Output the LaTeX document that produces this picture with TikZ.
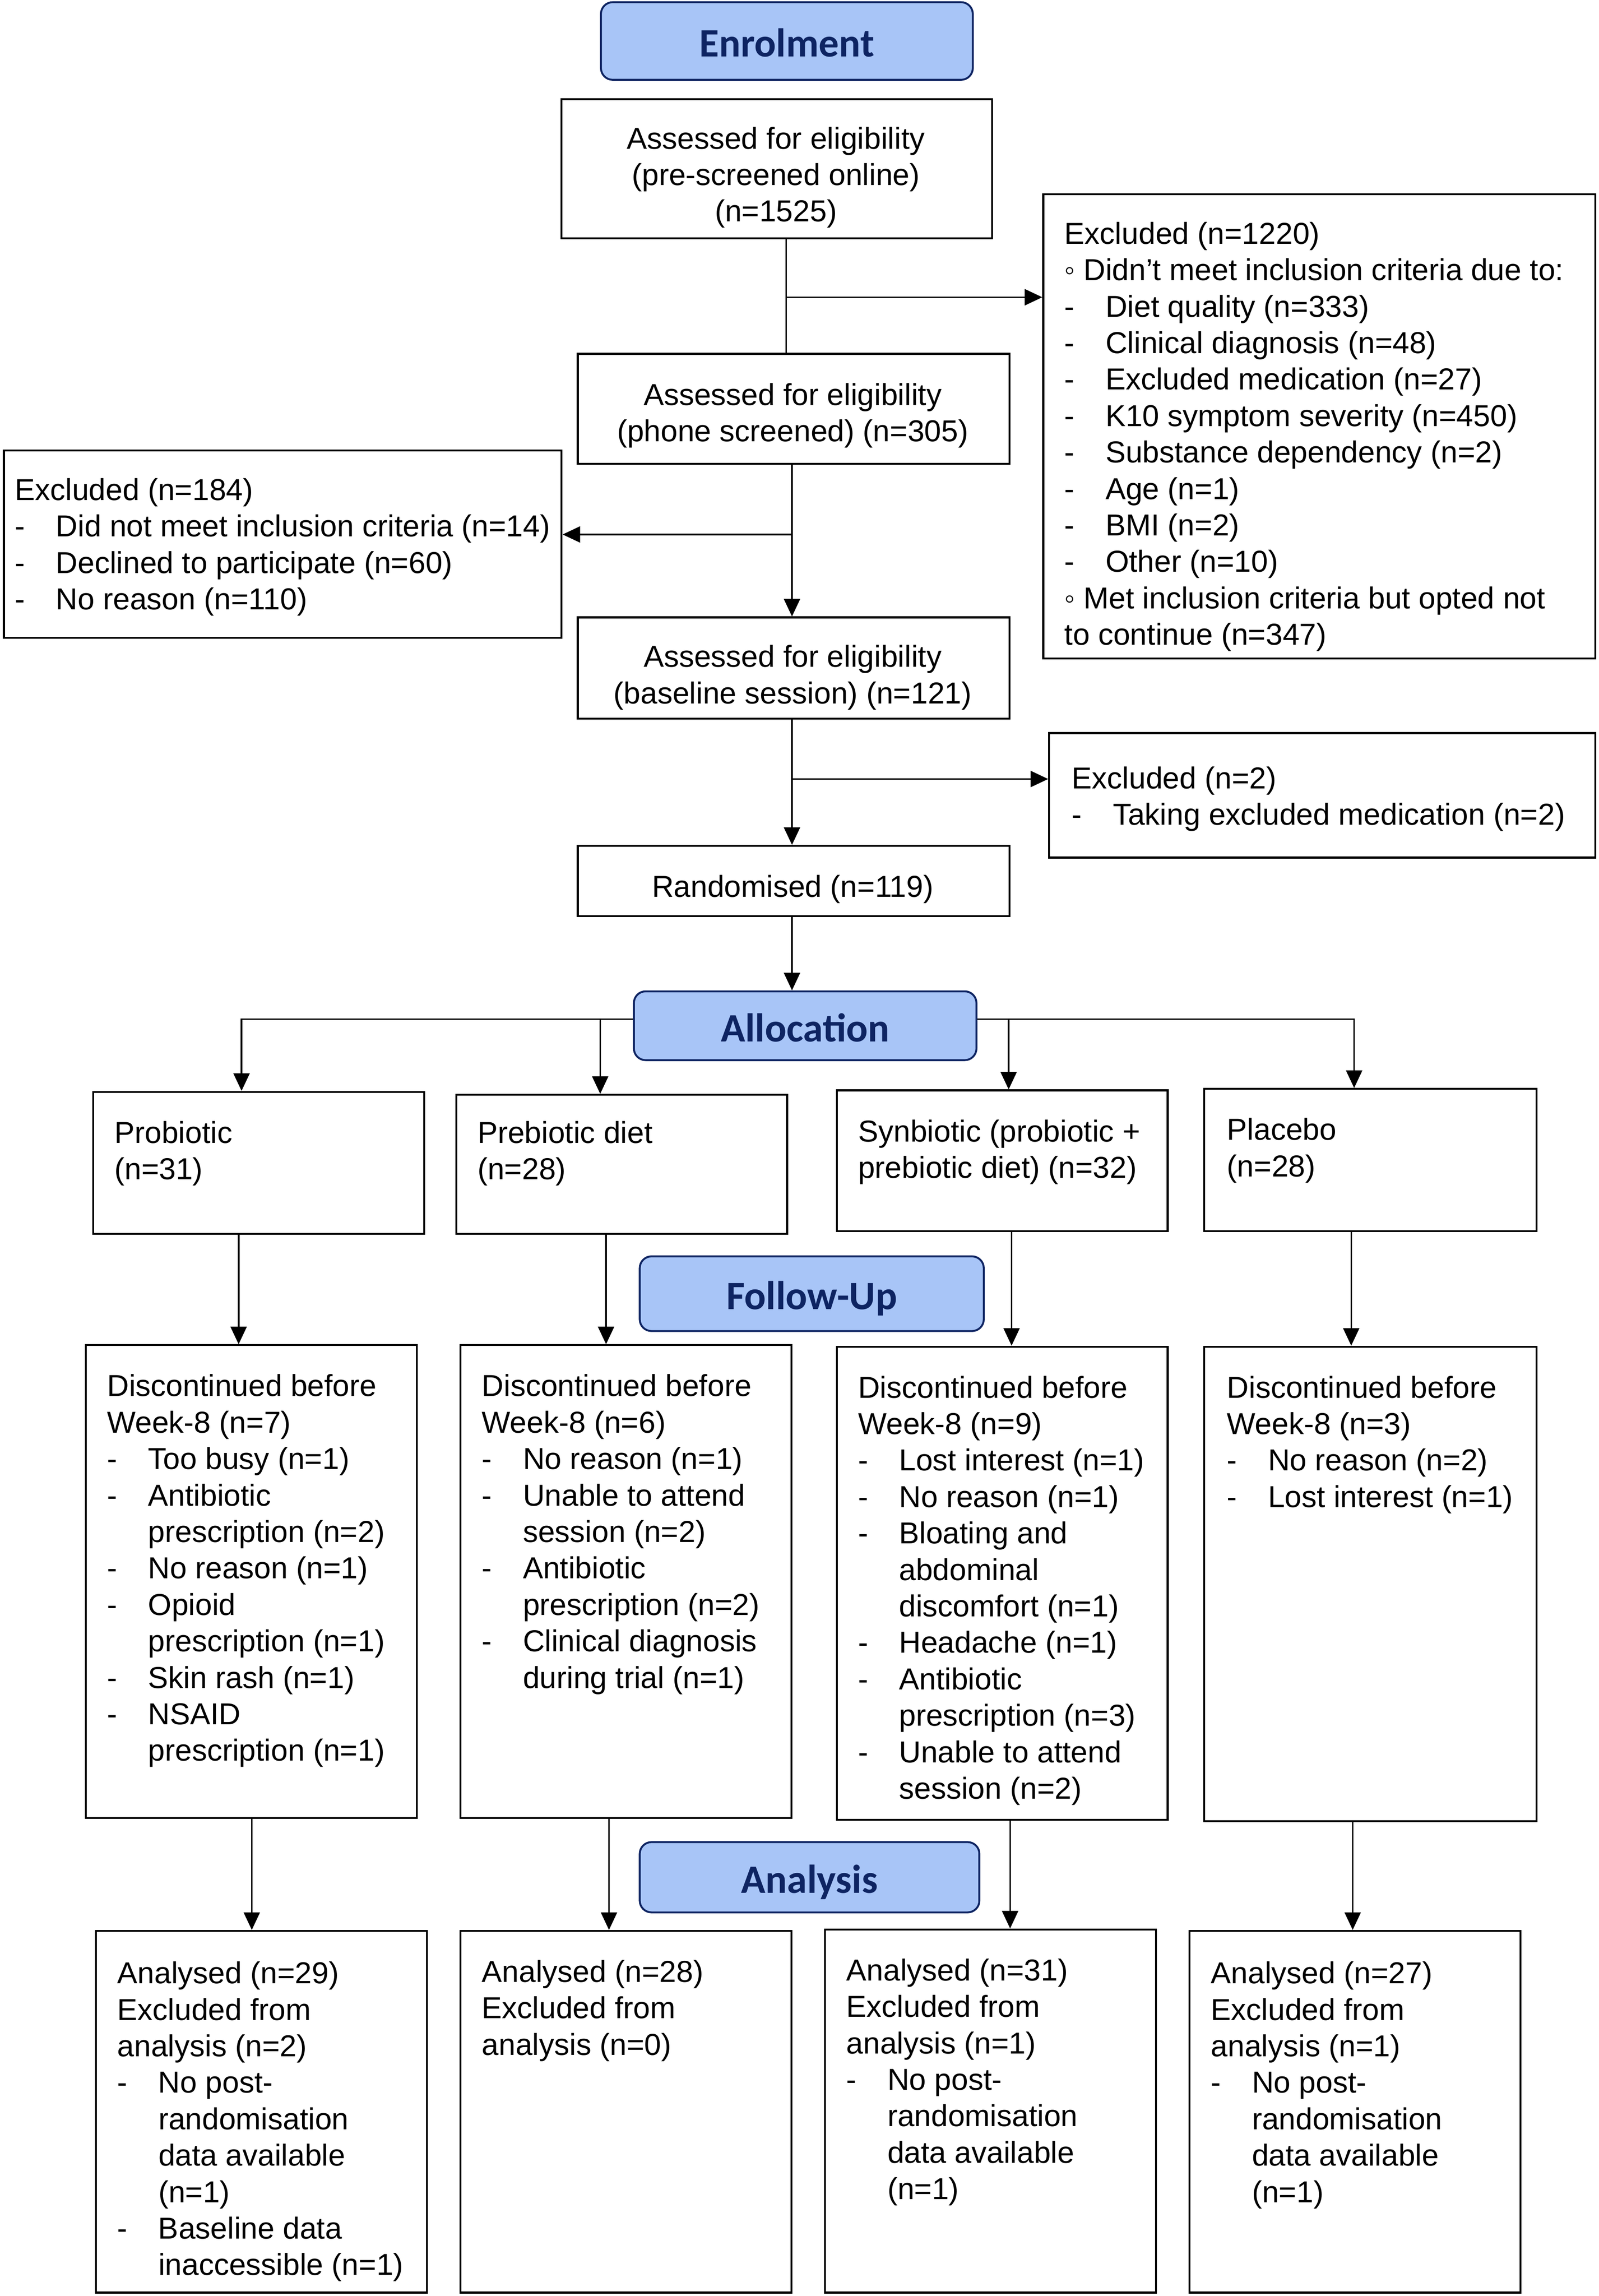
\documentclass[tikz,border=0pt]{standalone}
\usepackage{fontspec}
\setmainfont{Liberation Sans}
\newfontfamily\hdrfont{Carlito}
\usetikzlibrary{arrows.meta}
\definecolor{hdrfill}{RGB}{168,197,247}
\definecolor{navy}{RGB}{14,36,98}
\newcommand\itm{\makebox[28pt][l]{-}}
\newcommand\ind{\hspace*{28pt}}
\begin{document}
\begin{tikzpicture}[x=1pt,y=-1pt,
  box/.style={draw, line width=1.3pt, inner sep=0pt, anchor=north west},
  hdr/.style={draw=navy, fill=hdrfill, line width=1.3pt, rounded corners=8pt, inner sep=0pt, text=navy,
    font=\hdrfont\bfseries\fontsize{27.5pt}{30pt}\selectfont, text height=21.5pt, text depth=0pt},
  txt/.style={inner sep=0pt, anchor=north west, align=left, font=\fontsize{20.7pt}{24.9pt}\selectfont},
  ctxt/.style={inner sep=0pt, anchor=north, align=center, font=\fontsize{20.7pt}{24.9pt}\selectfont},
  arr/.style={line width=1.1pt, -{Triangle[length=12pt,width=11pt]}},
  ln/.style={line width=1.1pt}]
\useasboundingbox (0,0) rectangle (1092,1568);

% headers
\node[hdr, minimum width=254pt, minimum height=53pt] (enr) at (537.5,28) {Enrolment};
\node[hdr, minimum width=234pt, minimum height=47pt] (alloc) at (550,700.5) {Allocation};
\node[hdr, minimum width=235pt, minimum height=51pt] (fu) at (554.5,883.5) {Follow-Up};
\node[hdr, minimum width=232pt, minimum height=48pt] (an) at (553,1282) {Analysis};

% enrolment boxes
\node[box, minimum width=294pt, minimum height=95pt] (a1) at (383,67) {};
\node[ctxt] (a1t) at (530,84) {\strut Assessed for eligibility\\(pre-screened online)\\(n=1525)};
\node[box, minimum width=377pt, minimum height=317pt] (ex1) at (712,132) {};
\node[txt] (ex1t) at (727,149) {\strut Excluded (n=1220)\\
◦ Didn’t meet inclusion criteria due to:\\
\itm Diet quality (n=333)\\
\itm Clinical diagnosis (n=48)\\
\itm Excluded medication (n=27)\\
\itm K10 symptom severity (n=450)\\
\itm Substance dependency (n=2)\\
\itm Age (n=1)\\
\itm BMI (n=2)\\
\itm Other (n=10)\\
◦ Met inclusion criteria but opted not\\
to continue (n=347)};
\node[box, minimum width=295pt, minimum height=75pt] (a2) at (394,241) {};
\node[ctxt] (a2t) at (541.5,259) {\strut Assessed for eligibility\\(phone screened) (n=305)};
\node[box, minimum width=381pt, minimum height=128pt] (ex2) at (2,307) {};
\node[txt] (ex2t) at (10,324) {\strut Excluded (n=184)\\
\itm Did not meet inclusion criteria (n=14)\\
\itm Declined to participate (n=60)\\
\itm No reason (n=110)};
\node[box, minimum width=295pt, minimum height=69pt] (a3) at (394,421) {};
\node[ctxt] (a3t) at (541.5,438) {\strut Assessed for eligibility\\(baseline session) (n=121)};
\node[box, minimum width=373pt, minimum height=85pt] (ex3) at (716,500) {};
\node[txt] (ex3t) at (732,521) {\strut Excluded (n=2)\\
\itm Taking excluded medication (n=2)};
\node[box, minimum width=295pt, minimum height=48pt] (rand) at (394,577) {};
\node[ctxt] (randt) at (541.5,595) {\strut Randomised (n=119)};

% groups
\node[box, minimum width=226pt, minimum height=97pt] (g1) at (63,745) {};
\node[txt] (g1t) at (78,763) {\strut Probiotic\\(n=31)};
\node[box, minimum width=226pt, minimum height=95pt] (g2) at (311,747) {};
\node[txt] (g2t) at (326,763) {\strut Prebiotic diet\\(n=28)};
\node[box, minimum width=226pt, minimum height=96pt] (g3) at (571,744) {};
\node[txt] (g3t) at (586,762) {\strut Synbiotic (probiotic +\\prebiotic diet) (n=32)};
\node[box, minimum width=227pt, minimum height=97pt] (g4) at (822,743) {};
\node[txt] (g4t) at (838,761) {\strut Placebo\\(n=28)};

% follow-up
\node[box, minimum width=226pt, minimum height=323pt] (d1) at (58,918) {};
\node[txt] (d1t) at (73,936) {\strut Discontinued before\\Week-8 (n=7)\\
\itm Too busy (n=1)\\
\itm Antibiotic\\
\ind prescription (n=2)\\
\itm No reason (n=1)\\
\itm Opioid\\
\ind prescription (n=1)\\
\itm Skin rash (n=1)\\
\itm NSAID\\
\ind prescription (n=1)};
\node[box, minimum width=226pt, minimum height=323pt] (d2) at (314,918) {};
\node[txt] (d2t) at (329,936) {\strut Discontinued before\\Week-8 (n=6)\\
\itm No reason (n=1)\\
\itm Unable to attend\\
\ind session (n=2)\\
\itm Antibiotic\\
\ind prescription (n=2)\\
\itm Clinical diagnosis\\
\ind during trial (n=1)};
\node[box, minimum width=226pt, minimum height=323pt] (d3) at (571,919) {};
\node[txt] (d3t) at (586,937) {\strut Discontinued before\\Week-8 (n=9)\\
\itm Lost interest (n=1)\\
\itm No reason (n=1)\\
\itm Bloating and\\
\ind abdominal\\
\ind discomfort (n=1)\\
\itm Headache (n=1)\\
\itm Antibiotic\\
\ind prescription (n=3)\\
\itm Unable to attend\\
\ind session (n=2)};
\node[box, minimum width=227pt, minimum height=324pt] (d4) at (822,919) {};
\node[txt] (d4t) at (838,937) {\strut Discontinued before\\Week-8 (n=3)\\
\itm No reason (n=2)\\
\itm Lost interest (n=1)};

% analysis
\node[box, minimum width=226pt, minimum height=247pt] (e1) at (65,1318) {};
\node[txt] (e1t) at (80,1337) {\strut Analysed (n=29)\\Excluded from\\analysis (n=2)\\
\itm No post-\\
\ind randomisation\\
\ind data available\\
\ind (n=1)\\
\itm Baseline data\\
\ind inaccessible (n=1)};
\node[box, minimum width=226pt, minimum height=247pt] (e2) at (314,1318) {};
\node[txt] (e2t) at (329,1336) {\strut Analysed (n=28)\\Excluded from\\analysis (n=0)};
\node[box, minimum width=226pt, minimum height=248pt] (e3) at (563,1317) {};
\node[txt] (e3t) at (578,1335) {\strut Analysed (n=31)\\Excluded from\\analysis (n=1)\\
\itm No post-\\
\ind randomisation\\
\ind data available\\
\ind (n=1)};
\node[box, minimum width=226pt, minimum height=247pt] (e4) at (812,1318) {};
\node[txt] (e4t) at (827,1337) {\strut Analysed (n=27)\\Excluded from\\analysis (n=1)\\
\itm No post-\\
\ind randomisation\\
\ind data available\\
\ind (n=1)};

% connector columns
\coordinate (cA) at (537,0);
\coordinate (cB) at (541,0);
\coordinate (ly) at (0,696);
\coordinate (g1x) at (165,0);
\coordinate (g2x) at (410,0);
\coordinate (g3x) at (689,0);
\coordinate (g4x) at (925,0);
\coordinate (f1x) at (163,0);
\coordinate (f2x) at (414,0);
\coordinate (f3x) at (691,0);
\coordinate (f4x) at (923,0);
\coordinate (h1x) at (172,0);
\coordinate (h2x) at (416,0);
\coordinate (h3x) at (690,0);
\coordinate (h4x) at (924,0);

\draw[ln] (a1.south -| cA) -- (a2.north -| cA);
\draw[arr] (cA |- 0,203) -- (ex1.west |- 0,203);
\draw[arr] (a2.south -| cB) -- (a3.north -| cB);
\draw[arr] (cB |- 0,365) -- (ex2.east |- 0,365);
\draw[arr] (a3.south -| cB) -- (rand.north -| cB);
\draw[arr] (cB |- 0,532) -- (ex3.west |- 0,532);
\draw[arr] (rand.south -| cB) -- (alloc.north -| cB);

\draw[arr] (alloc.west |- ly) -| (g1.north -| g1x);
\draw[arr] (alloc.east |- ly) -| (g4.north -| g4x);
\draw[arr] (g2x |- ly) -- (g2.north -| g2x);
\draw[arr] (g3x |- ly) -- (g3.north -| g3x);

\draw[arr] (g1.south -| f1x) -- (d1.north -| f1x);
\draw[arr] (g2.south -| f2x) -- (d2.north -| f2x);
\draw[arr] (g3.south -| f3x) -- (d3.north -| f3x);
\draw[arr] (g4.south -| f4x) -- (d4.north -| f4x);

\draw[arr] (d1.south -| h1x) -- (e1.north -| h1x);
\draw[arr] (d2.south -| h2x) -- (e2.north -| h2x);
\draw[arr] (d3.south -| h3x) -- (e3.north -| h3x);
\draw[arr] (d4.south -| h4x) -- (e4.north -| h4x);
\end{tikzpicture}
\end{document}
